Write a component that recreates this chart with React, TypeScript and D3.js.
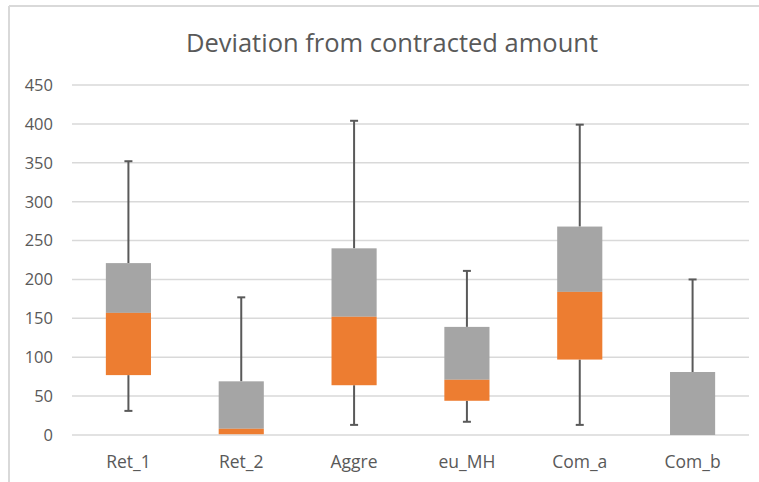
import React from "react";
import * as d3 from "d3";

const categories = ["Ret_1", "Ret_2", "Aggre", "eu_MH", "Com_a", "Com_b"];
const whiskerMin = [31, 1, 13, 17, 13, 0];
const q1Values = [77, 1, 64, 44, 97, 0];
const medianValues = [157, 8, 152, 71, 184, 0];
const q3Values = [221, 69, 240, 139, 268, 81];
const whiskerMax = [352, 177, 404, 211, 399, 200];
const yTicks = [0, 50, 100, 150, 200, 250, 300, 350, 400, 450];
const title = "Deviation from contracted amount";

const W = 759;
const H = 482;
const FONT = "'Open Sans', 'Liberation Sans', sans-serif";

export default function App() {
  const x = d3.scaleBand<string>().domain(categories).range([72, 749]).paddingInner(0).paddingOuter(0);
  const y = d3.scaleLinear().domain([0, 450]).range([435, 85]);
  const bw = x.bandwidth() * 0.4;
  const capW = 8;
  const textColor = "#595959";

  return (
    <div style={{ position: "absolute", left: 0, top: 0 }}>
      <svg width={W} height={H} style={{ display: "block" }}>
        <rect x={0} y={0} width={W} height={H} fill="#fff" />
        {/* chart border */}
        <line x1={9} y1={6} x2={W} y2={6} stroke="#D9D9D9" strokeWidth={2} />
        <line x1={9} y1={6} x2={9} y2={H} stroke="#D9D9D9" strokeWidth={2} />
        <text x={392} y={52} textAnchor="middle" fontFamily={FONT} fontSize={25.5} fill={textColor}>
          {title}
        </text>
        {yTicks.map((t) => (
          <g key={t}>
            <line x1={72} x2={749} y1={y(t)} y2={y(t)} stroke="#D9D9D9" strokeWidth={1.5} />
            <text x={53} y={y(t)} dy="0.36em" textAnchor="end" fontFamily={FONT} fontSize={16.5} fill={textColor}>
              {t}
            </text>
          </g>
        ))}
        {categories.map((c, i) => {
          const cx = (x(c) as number) + x.bandwidth() / 2;
          const x0 = cx - bw / 2;
          return (
            <g key={c}>
              {whiskerMax[i] > q3Values[i] && (
                <g stroke="#595959" strokeWidth={2}>
                  <line x1={cx} x2={cx} y1={y(q3Values[i])} y2={y(whiskerMax[i])} />
                  <line x1={cx - capW / 2} x2={cx + capW / 2} y1={y(whiskerMax[i])} y2={y(whiskerMax[i])} />
                </g>
              )}
              {whiskerMin[i] < q1Values[i] && (
                <g stroke="#595959" strokeWidth={2}>
                  <line x1={cx} x2={cx} y1={y(q1Values[i])} y2={y(whiskerMin[i])} />
                  <line x1={cx - capW / 2} x2={cx + capW / 2} y1={y(whiskerMin[i])} y2={y(whiskerMin[i])} />
                </g>
              )}
              <rect x={x0} width={bw} y={y(q3Values[i])} height={y(medianValues[i]) - y(q3Values[i])} fill="#A5A5A5" />
              <rect x={x0} width={bw} y={y(medianValues[i])} height={y(q1Values[i]) - y(medianValues[i])} fill="#ED7D31" />
              <text x={cx} y={468} textAnchor="middle" fontFamily={FONT} fontSize={17.5} fill={textColor}>
                {c}
              </text>
            </g>
          );
        })}
      </svg>
    </div>
  );
}
